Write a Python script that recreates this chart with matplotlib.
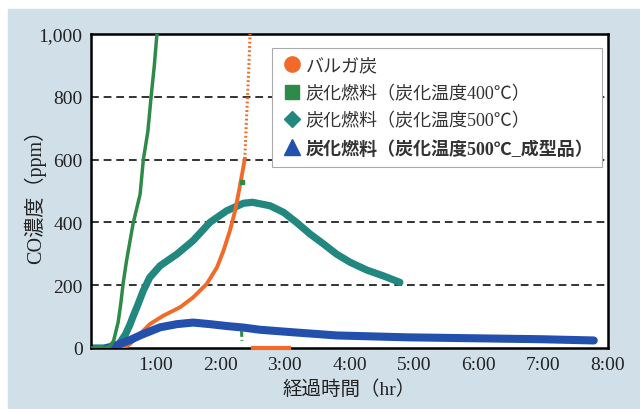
import numpy as np, matplotlib
matplotlib.use("Agg"); import matplotlib.pyplot as plt
from matplotlib.lines import Line2D
from matplotlib.patches import Rectangle
plt.rcParams["font.family"]=["Liberation Serif","Noto Sans CJK JP"]

# ---- data (hours, ppm) ----
green_t=[0,0.2,0.29,0.35,0.42,0.46,0.5,0.55,0.65,0.76,0.81,0.88,0.93,0.98,1.02,1.08]
green_v=[0,0,5,23,82,140,210,278,395,490,600,690,800,900,1000,1200]
green_dot_t=[2.33]; green_dot_v=[530]
green_tail_t=[2.33,2.335]; green_tail_v=[55,23]

orange_t=[0.5,0.6,0.68,0.76,0.91,1.12,1.38,1.58,1.79,1.95,2.05,2.15,2.23,2.28,2.33,2.38]
orange_v=[0,12,28,45,76,103,130,161,204,257,310,374,437,490,545,602]
orange_top_t=[2.38,2.40,2.42,2.44,2.46,2.47]
orange_top_v=[602,700,793,880,994,1100]
orange_zero_t=[2.51,3.07]; orange_zero_v=[0,0]

teal_t=[0,0.2,0.38,0.45,0.53,0.6,0.65,0.71,0.81,0.91,1.07,1.33,1.58,1.84,2.1,2.36,2.5,2.77,2.98,3.18,3.39,3.6,3.8,4.01,4.27,4.52,4.78]
teal_v=[0,0,0,18,42,73,100,130,183,225,262,299,342,400,437,461,464,453,432,400,363,331,299,273,248,230,209]

blue_t=[0.24,0.35,0.45,0.6,0.78,1.07,1.33,1.58,1.84,2.1,2.36,2.62,3.13,3.8,4.89,5.92,6.95,7.78]
blue_v=[0,6,13,25,42,66,76,81,76,70,65,58,50,40,34,31,28,24]

labels=["バルガ炭","炭化燃料（炭化温度400℃）","炭化燃料（炭化温度500℃）","炭化燃料（炭化温度500℃_成型品）"]
xticks=[1,2,3,4,5,6,7,8]; xticklabels=["%d:00"%h for h in xticks]
yticks=[0,200,400,600,800,1000]; yticklabels=["0","200","400","600","800","1,000"]

C_OR="#f26a2a"; C_GR="#2e8a48"; C_TE="#22877f"; C_BL="#2350ad"; BG="#d1e0e8"

fig=plt.figure(figsize=(6.4,4.1),dpi=100,facecolor="white")
fig.patches.append(Rectangle((8/640,0),1,400/410,transform=fig.transFigure,color=BG,zorder=-5))
ax=fig.add_axes([91/640,1-349/410,517/640,314/410])
ax.set_facecolor("white")

for y in yticks[1:-1]:
    ax.axhline(y,color="#333333",lw=1.4,ls=(0,(4,2.5)),zorder=1)

ax.plot(teal_t,teal_v,color=C_TE,lw=5.2,zorder=2,solid_capstyle="round",solid_joinstyle="round")
ax.plot(orange_t,orange_v,color=C_OR,lw=2.8,zorder=3,solid_joinstyle="round")
ax.plot(orange_top_t,orange_top_v,color=C_OR,lw=2.2,ls=(0,(0.6,0.8)),zorder=3)
ax.plot(orange_zero_t,orange_zero_v,color=C_OR,lw=3,zorder=3,clip_on=False)
ax.plot(blue_t,blue_v,color=C_BL,lw=5.8,zorder=4,solid_capstyle="round",solid_joinstyle="round")
ax.plot(green_t,green_v,color=C_GR,lw=2.5,zorder=5,solid_joinstyle="round")
ax.plot(green_dot_t,green_dot_v,"s",color=C_GR,ms=3,zorder=5)
ax.plot(green_tail_t,green_tail_v,color=C_GR,lw=2.2,ls=(0,(2,1)),zorder=5)

ax.set_xlim(0,8); ax.set_ylim(0,1000)
ax.set_xticks(xticks); ax.set_xticklabels(xticklabels)
ax.set_yticks(yticks); ax.set_yticklabels(yticklabels)
ax.tick_params(length=0,labelsize=14,pad=6,colors="#222222")
for s in ax.spines.values(): s.set_linewidth(1.8); s.set_color("black")
ax.set_xlabel("経過時間（hr）",fontsize=14,color="#222222")
ax.set_ylabel("CO濃度（ppm）",fontsize=14.5,color="#222222")
ax.xaxis.set_label_coords(0.5,-0.1)
ax.yaxis.set_label_coords(-0.087,0.5)

hs=[Line2D([],[],ls="",marker="o",color=C_OR,ms=11),
    Line2D([],[],ls="",marker="s",color=C_GR,ms=10),
    Line2D([],[],ls="",marker="D",color=C_TE,ms=8.5),
    Line2D([],[],ls="",marker="^",color=C_BL,ms=12)]
leg=ax.legend(hs,labels,loc="upper left",bbox_to_anchor=(0.35,0.955),borderaxespad=0,fontsize=13,frameon=True,
              fancybox=False,edgecolor="#aaaaaa",framealpha=1,borderpad=0.5,labelspacing=0.58,
              handletextpad=0.15,handlelength=1.2)
leg.get_frame().set_linewidth(0.8)
for t in leg.get_texts(): t.set_color("#333333")
leg.get_texts()[3].set_fontweight("bold")

fig.savefig("out.png",dpi=100,facecolor="white")
